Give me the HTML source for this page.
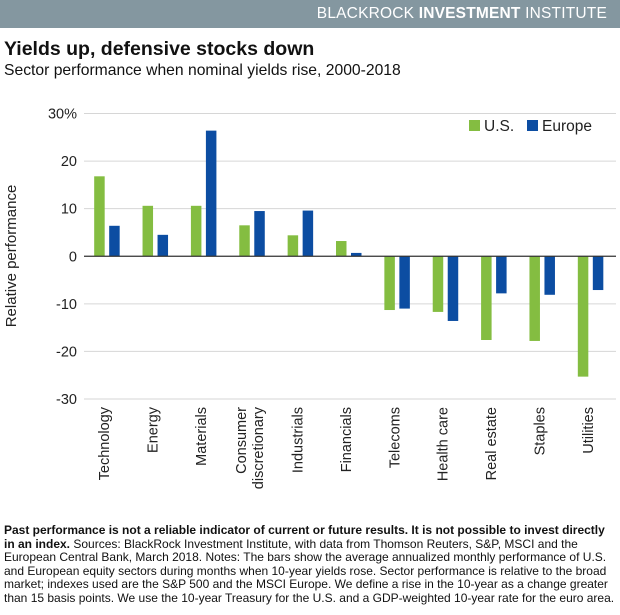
<!DOCTYPE html>
<html><head><meta charset="utf-8"><style>
body{margin:0;width:620px;height:615px;background:#fff;font-family:"Liberation Sans",Arial,sans-serif;position:relative;overflow:hidden}
#hdr{position:absolute;left:0;top:0;width:620px;height:28px;background:#8497a0}
#hdr span{position:absolute;right:13px;top:5px;color:#fff;font-size:15.5px;letter-spacing:0.2px}
#title{position:absolute;left:4px;top:38px;font-size:19.5px;font-weight:bold;color:#111}
#sub{position:absolute;left:4px;top:62px;font-size:15.7px;color:#111}
#note{position:absolute;left:4px;top:524px;font-size:12px;line-height:13.6px;color:#111;white-space:nowrap}
</style></head><body>
<div id="hdr"><span>BLACKROCK <b>INVESTMENT</b> INSTITUTE</span></div>
<div id="title">Yields up, defensive stocks down</div>
<div id="sub">Sector performance when nominal yields rise, 2000-2018</div>
<svg id="chart" width="620" height="520" style="position:absolute;left:0;top:0" font-family="Liberation Sans, Arial, sans-serif"></svg>
<div id="note"><b>Past performance is not a reliable indicator of current or future results. It is not possible to invest directly<br>in an index.</b> Sources: BlackRock Investment Institute, with data from Thomson Reuters, S&amp;P, MSCI and the<br>European Central Bank, March 2018. Notes: The bars show the average annualized monthly performance of U.S.<br>and European equity sectors during months when 10-year yields rose. Sector performance is relative to the broad<br>market; indexes used are the S&amp;P 500 and the MSCI Europe. We define a rise in the 10-year as a change greater<br>than 15 basis points. We use the 10-year Treasury for the U.S. and a GDP-weighted 10-year rate for the euro area.</div>
<script>
const categories=["Technology","Energy","Materials","Consumer\ndiscretionary","Industrials","Financials","Telecoms","Health care","Real estate","Staples","Utilities"];
const usValues=[16.8,10.6,10.6,6.5,4.4,3.2,-11.3,-11.7,-17.6,-17.8,-25.3];
const europeValues=[6.4,4.5,26.4,9.5,9.6,0.7,-11.0,-13.6,-7.8,-8.1,-7.1];
const yTicks=[30,20,10,0,-10,-20,-30];
const yTickLabels=["30%","20","10","0","-10","-20","-30"];
const NS="http://www.w3.org/2000/svg";
const svg=document.getElementById('chart');
const x0=84,x1=616,yTop=113.5,yBot=399;
const y=v=>yTop+(30-v)*(yBot-yTop)/60;
const band=(x1-x0)/categories.length;
const cx=i=>x0+band*(i+0.5);
function mk(t,a){const e=document.createElementNS(NS,t);for(const k in a)e.setAttribute(k,a[k]);svg.appendChild(e);return e;}
yTicks.forEach((t,i)=>{
 if(t!==0){const g=mk('line',{x1:x0,x2:x1,y1:y(t),y2:y(t),stroke:'#d6d6d6','stroke-width':1});
 
 }
 const l=mk('text',{x:77,y:y(t)+5,'text-anchor':'end','font-size':14.5,fill:'#222'});
 l.textContent=yTickLabels[i];
 
 
});
const bw=10.5;
categories.forEach((c,i)=>{
 [[usValues[i],'#84bd41',-14],[europeValues[i],'#0c4da2',1]].forEach(([v,col,off])=>{
  const r=mk('rect',{x:cx(i)+off,y:Math.min(y(v),y(0)),width:bw,height:Math.abs(y(v)-y(0)),fill:col});
  
  
 });
 const lines=c.split('\n');
 lines.forEach((ln,j)=>{
  const xx=cx(i)+1+(j-(lines.length-1)/2)*17;
  const t=mk('text',{x:xx,y:407,'text-anchor':'end','font-size':14.5,fill:'#222',transform:`rotate(-90 ${xx} 407)`});
  t.textContent=ln;
  
  
 });
});
const z=mk('line',{x1:x0,x2:x1,y1:y(0),y2:y(0),stroke:'#333','stroke-width':1.2});


const yt=mk('text',{x:16,y:256,'text-anchor':'middle','font-size':15,fill:'#222',transform:'rotate(-90 16 256)'});
yt.textContent='Relative performance';


const lg=[['U.S.','#84bd41',469],['Europe','#0c4da2',527]];
lg.forEach(([n,col,lx])=>{
 const s=mk('rect',{x:lx,y:120,width:11,height:11,fill:col});
 
 
 const t=mk('text',{x:lx+15,y:131,'font-size':15.5,fill:'#222'});
 t.textContent=n;
 
 
});
</script>
</body></html>
